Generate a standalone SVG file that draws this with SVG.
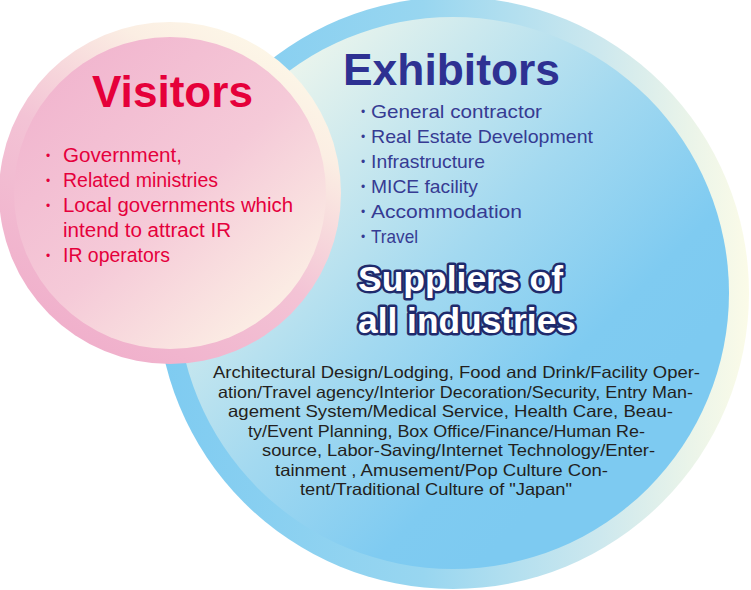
<svg xmlns="http://www.w3.org/2000/svg" width="751" height="590" viewBox="0 0 751 590">
<defs>
<linearGradient id="blueRing" gradientUnits="userSpaceOnUse" x1="157" y1="0" x2="749" y2="0">
<stop offset="0" stop-color="#7ecbf1"/>
<stop offset="0.45" stop-color="#98d6f0"/>
<stop offset="0.75" stop-color="#cde8ee"/>
<stop offset="0.9" stop-color="#eaf4e9"/>
<stop offset="1" stop-color="#fbfbe8"/>
</linearGradient>
<linearGradient id="blueDisk" gradientUnits="userSpaceOnUse" x1="250" y1="60" x2="620" y2="420">
<stop offset="0" stop-color="#f3f8ec"/>
<stop offset="0.55" stop-color="#a3d9f0"/>
<stop offset="0.85" stop-color="#7fcbf1"/>
<stop offset="1" stop-color="#7dcaf1"/>
</linearGradient>
<linearGradient id="pinkRing" gradientUnits="userSpaceOnUse" x1="80" y1="350" x2="280" y2="40">
<stop offset="0" stop-color="#f0afcb"/>
<stop offset="0.45" stop-color="#f3c3d5"/>
<stop offset="0.8" stop-color="#fbeee3"/>
<stop offset="1" stop-color="#fdf8e8"/>
</linearGradient>
<linearGradient id="pinkDisk" gradientUnits="userSpaceOnUse" x1="50" y1="60" x2="300" y2="340">
<stop offset="0" stop-color="#f1b4ce"/>
<stop offset="0.5" stop-color="#f5cad8"/>
<stop offset="1" stop-color="#fdf6e7"/>
</linearGradient>
</defs>
<style>
.title{font-family:"Liberation Sans",Arial,sans-serif;font-weight:bold;font-size:45px}
.vis{fill:#e5003a}
.vitem{font-family:"Liberation Sans",Arial,sans-serif;font-size:20px;fill:#e5003c}
.exh{fill:#2e3192}
.eitem{font-family:"Liberation Sans",Arial,sans-serif;font-size:19px;fill:#363b93}
.bul{font-family:"Liberation Sans",Arial,sans-serif;font-size:12px}
.sup{font-family:"Liberation Sans",Arial,sans-serif;font-weight:bold;font-size:35px;fill:#ffffff;stroke:#1f2a6c;stroke-width:5;stroke-linejoin:round;paint-order:stroke}
.para{font-family:"Liberation Sans",Arial,sans-serif;font-size:16.5px;fill:#231f20}
</style>

<g id="exhibitors">
<circle cx="453" cy="293" r="296" fill="url(#blueRing)"/>
<circle cx="453" cy="293" r="276" fill="url(#blueDisk)"/>
<text class="title exh" x="343" y="85" textLength="217" lengthAdjust="spacingAndGlyphs">Exhibitors</text>
<g class="eitem">
<text class="bul" x="361" y="116">•</text><text x="371" y="118" textLength="171" lengthAdjust="spacingAndGlyphs">General contractor</text>
<text class="bul" x="361" y="141">•</text><text x="371" y="143" textLength="222" lengthAdjust="spacingAndGlyphs">Real Estate Development</text>
<text class="bul" x="361" y="166">•</text><text x="371" y="168" textLength="114" lengthAdjust="spacingAndGlyphs">Infrastructure</text>
<text class="bul" x="361" y="191">•</text><text x="371" y="193" textLength="107" lengthAdjust="spacingAndGlyphs">MICE facility</text>
<text class="bul" x="361" y="216">•</text><text x="371" y="218" textLength="151" lengthAdjust="spacingAndGlyphs">Accommodation</text>
<text class="bul" x="361" y="241">•</text><text x="371" y="243" textLength="47" lengthAdjust="spacingAndGlyphs">Travel</text>
</g>
<text class="sup" x="358" y="291" textLength="205" lengthAdjust="spacingAndGlyphs">Suppliers of</text>
<text class="sup" x="358" y="333" textLength="218" lengthAdjust="spacingAndGlyphs">all industries</text>
<g class="para">
<text x="213" y="378" textLength="487" lengthAdjust="spacingAndGlyphs">Architectural Design/Lodging, Food and Drink/Facility Oper-</text>
<text x="218" y="398" textLength="475" lengthAdjust="spacingAndGlyphs">ation/Travel agency/Interior Decoration/Security, Entry Man-</text>
<text x="228" y="417" textLength="445" lengthAdjust="spacingAndGlyphs">agement System/Medical Service, Health Care, Beau-</text>
<text x="248" y="437" textLength="397" lengthAdjust="spacingAndGlyphs">ty/Event Planning, Box Office/Finance/Human Re-</text>
<text x="262" y="456" textLength="393" lengthAdjust="spacingAndGlyphs">source, Labor-Saving/Internet Technology/Enter-</text>
<text x="275" y="476" textLength="333" lengthAdjust="spacingAndGlyphs">tainment , Amusement/Pop Culture Con-</text>
<text x="300" y="495" textLength="272" lengthAdjust="spacingAndGlyphs">tent/Traditional Culture of "Japan"</text>
</g>
</g>

<g id="visitors">
<circle cx="170" cy="193" r="171" fill="url(#pinkRing)"/>
<circle cx="170" cy="193" r="156" fill="url(#pinkDisk)"/>
<text class="title vis" x="92" y="107" textLength="161" lengthAdjust="spacingAndGlyphs">Visitors</text>
<g class="vitem">
<text class="bul" x="46" y="160">•</text><text x="63" y="162" textLength="119" lengthAdjust="spacingAndGlyphs">Government,</text>
<text class="bul" x="46" y="185">•</text><text x="63" y="187" textLength="155" lengthAdjust="spacingAndGlyphs">Related ministries</text>
<text class="bul" x="46" y="210">•</text><text x="63" y="212" textLength="230" lengthAdjust="spacingAndGlyphs">Local governments which</text>
<text x="63" y="237" textLength="168" lengthAdjust="spacingAndGlyphs">intend to attract IR</text>
<text class="bul" x="46" y="260">•</text><text x="63" y="262" textLength="107" lengthAdjust="spacingAndGlyphs">IR operators</text>
</g>
</g>
</svg>
